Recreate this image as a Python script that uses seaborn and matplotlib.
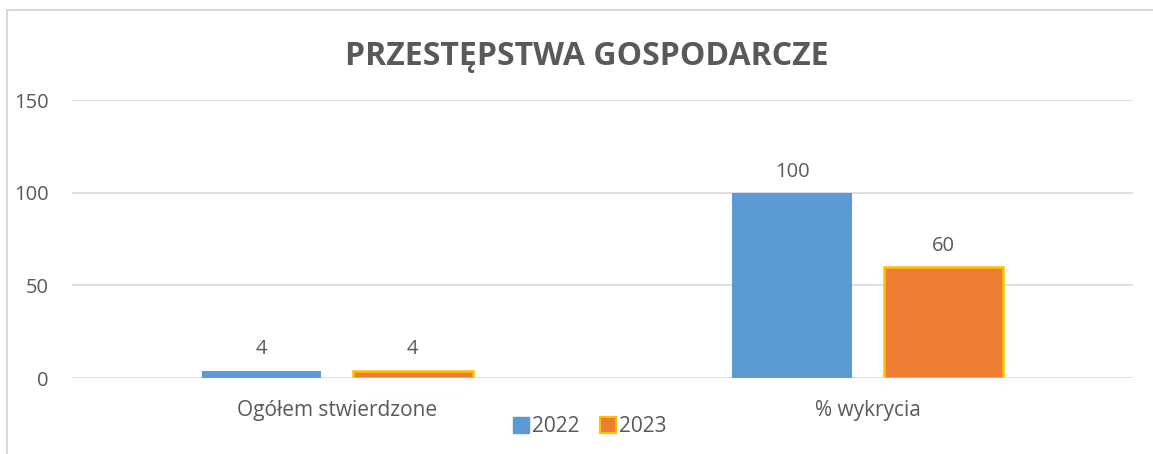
import matplotlib.pyplot as plt
from matplotlib.patches import Rectangle
from matplotlib.lines import Line2D
import seaborn as sns
import pandas as pd

# dane z wykresu
kategorie = ['Ogółem stwierdzone', '% wykrycia']
rok_2022 = [4, 100]
rok_2023 = [4, 60]
lata = ['2022', '2023']

df = pd.DataFrame({
    'kategoria': kategorie * 2,
    'rok': [lata[0]] * 2 + [lata[1]] * 2,
    'wartosc': rok_2022 + rok_2023,
})

sns.set_theme(style='white')
plt.rcParams['font.family'] = ['Open Sans', 'DejaVu Sans']
szary = '#595959'
kolory = {'2022': '#5B9BD5', '2023': '#ED7D31'}

fig = plt.figure(figsize=(11.53, 4.54), dpi=100)
ax = fig.add_axes([0.0624, 0.1674, 0.9203, 0.6123])

sns.barplot(data=df, x='kategoria', y='wartosc', hue='rok', palette=kolory,
            width=0.57, gap=0.21, ax=ax, legend=False, saturation=1)

# obramowanie pomarańczowych słupków
for cont, lab in zip(ax.containers, lata):
    for p in cont:
        if lab == '2023':
            p.set_edgecolor('#FFC000')
            p.set_linewidth(1.8)
        else:
            p.set_edgecolor('none')
    ax.bar_label(cont, fmt='%g', padding=8, fontsize=14.5, color=szary)

ax.set_ylim(0, 150)
ax.set_xlim(-0.5, 1.5)
ax.set_yticks([0, 50, 100, 150])
ax.yaxis.grid(True, color='#D9D9D9', linewidth=1.2)
ax.set_axisbelow(True)
for s in ax.spines.values():
    s.set_visible(False)
ax.tick_params(axis='y', length=0, pad=17, labelsize=14.5, labelcolor=szary)
ax.tick_params(axis='x', length=0, pad=16, labelsize=15, labelcolor=szary)
ax.set_xlabel('')
ax.set_ylabel('')

fig.text(0.509, 0.876, 'PRZESTĘPSTWA GOSPODARCZE', ha='center', va='center',
         fontsize=23, fontweight='bold', color=szary)

uchwyty = [
    Line2D([], [], marker='s', linestyle='none', markersize=11,
           markerfacecolor=kolory['2022'], markeredgecolor=kolory['2022']),
    Line2D([], [], marker='s', linestyle='none', markersize=11,
           markerfacecolor=kolory['2023'], markeredgecolor='#FFC000', markeredgewidth=1.5),
]
fig.legend(uchwyty, lata, loc='center', bbox_to_anchor=(0.511, 0.06), ncol=2,
           frameon=False, fontsize=15, labelcolor=szary, handletextpad=0.1,
           columnspacing=0.9, handlelength=0.9)

# ramka wykresu (lewa i górna krawędź)
fig.patches.append(Rectangle((7 / 1153, -0.1), 1.2, (454 - 10) / 454 + 0.1,
                             transform=fig.transFigure, fill=False,
                             edgecolor='#D9D9D9', linewidth=1.5))

fig.savefig('out.png', dpi=100)
